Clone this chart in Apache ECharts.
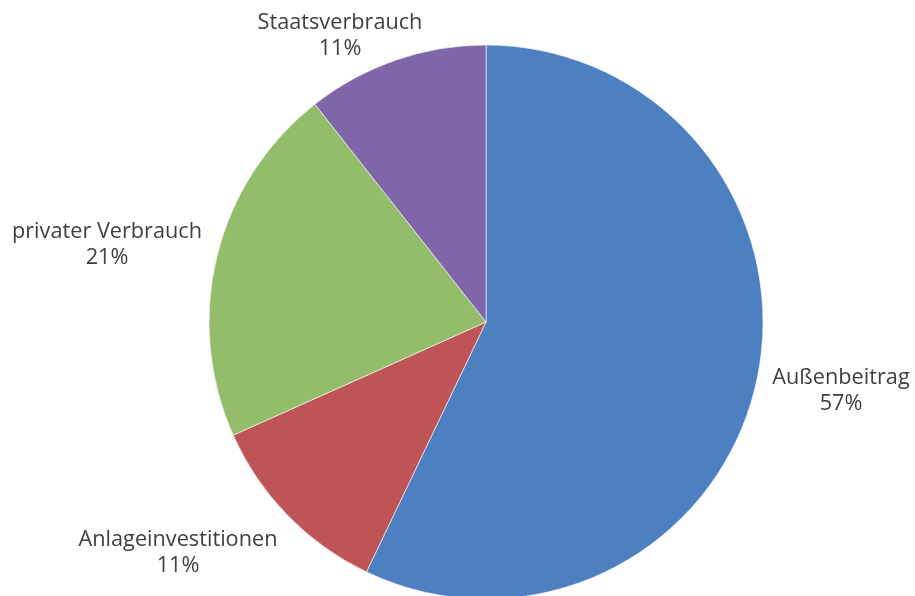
<!DOCTYPE html>
<html>
<head>
<meta charset="utf-8">
<script src="https://cdn.jsdelivr.net/npm/echarts@6/dist/echarts.min.js"></script>
<style>
html,body{margin:0;padding:0;background:#fff;}
#chart{width:915px;height:596px;}
</style>
</head>
<body>
<div id="chart"></div>
<script>
// Data
var categories = ['Außenbeitrag', 'Anlageinvestitionen', 'privater Verbrauch', 'Staatsverbrauch'];
var shares = [57.1, 11.2, 21.1, 10.6];

// Styles
var colors = ['#4D80C1', '#BE5455', '#93BD6A', '#7E66A8'];
var labelAnchors = [[841, 391], [178, 553], [107, 245], [340, 36]];

var chart = echarts.init(document.getElementById('chart'), null, {renderer: 'canvas'});
var option = {
  animation: false,
  backgroundColor: '#ffffff',
  series: [{
    type: 'pie',
    center: [486, 322],
    radius: 277,
    startAngle: 90,
    clockwise: true,
    avoidLabelOverlap: false,
    data: categories.map(function (c, i) {
      return {name: c, value: shares[i], itemStyle: {color: colors[i]}};
    }),
    itemStyle: {borderColor: '#ffffff', borderWidth: 0.6},
    label: {
      show: true,
      position: 'outside',
      fontFamily: 'Open Sans',
      fontSize: 21.7,
      lineHeight: 26.5,
      color: '#404040',
      formatter: function (p) { return p.name + '\n' + Math.round(p.percent) + '%'; }
    },
    labelLine: {show: false},
    labelLayout: function (params) {
      var a = labelAnchors[params.dataIndex];
      return {x: a[0], y: a[1], align: 'center', verticalAlign: 'middle'};
    },
    emphasis: {disabled: true}
  }]
};
chart.setOption(option);
</script>
</body>
</html>
